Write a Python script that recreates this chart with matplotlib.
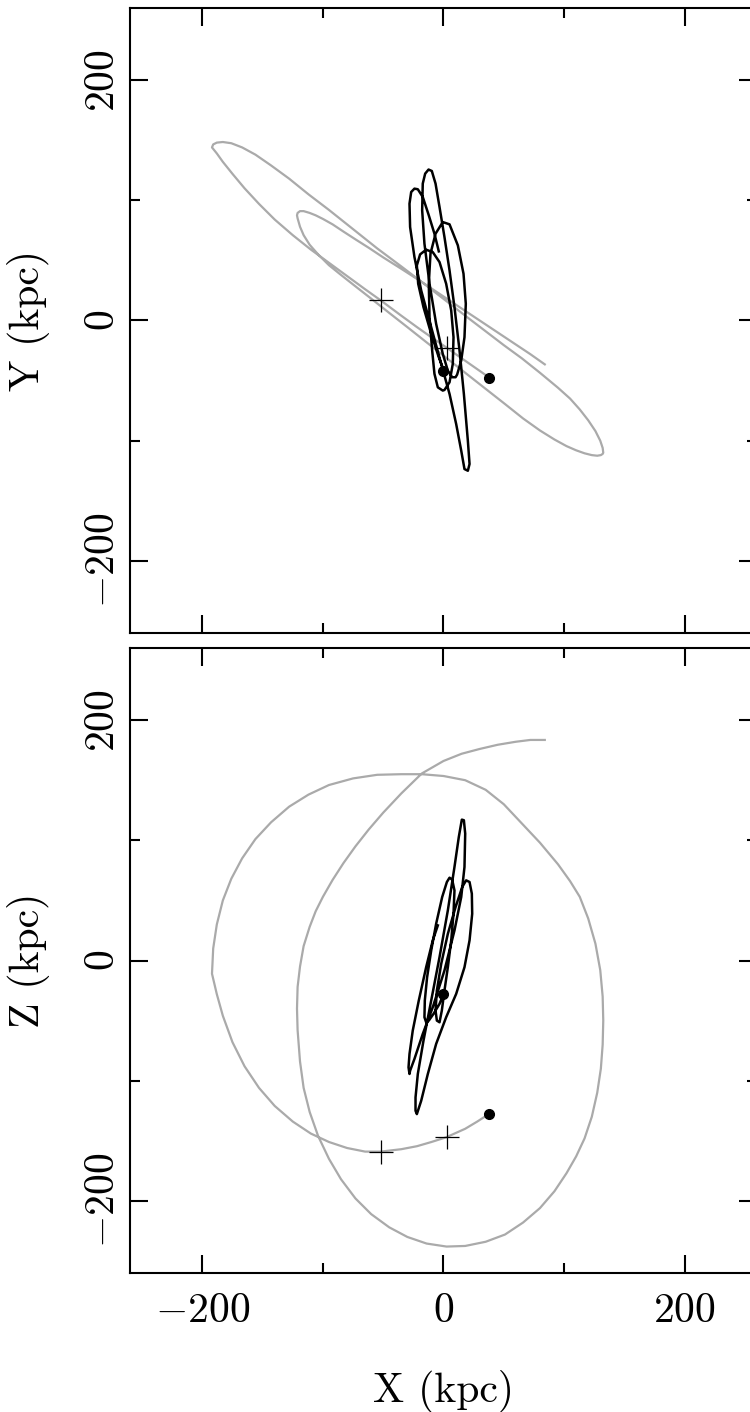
import numpy as np
import matplotlib.pyplot as plt

plt.rcParams['font.family'] = 'serif'
plt.rcParams['font.serif'] = ['cmr10']
plt.rcParams['mathtext.fontset'] = 'cm'
plt.rcParams['axes.formatter.use_mathtext'] = True

# gray orbit (x, y, z in kpc)
gx = [38, 28, 18, 8, 2.5, -10, -22, -35, -52, -65, -80, -95, -110, -125, -140, -153, -165, -175, -183, -188, -192,
      -191, -188, -183, -176, -167, -156, -143, -128, -112, -95, -75, -55, -35, -18, 0, 18, 35, 50, 65, 80, 95,
      105, 113, 120, 126, 130, 132, 132.5,
      132, 130.5, 127.5, 123, 117, 110, 102, 92, 80, 66, 51, 35, 18, 2.5, -14, -30, -45, -60, -73, -85, -95, -104,
      -111, -116, -119, -121,
      -121.5, -121, -119, -116, -111, -106, -100, -92, -83, -73, -62, -50, -35, -18, 0, 15, 30, 45, 60, 72, 84]
gy = [-47.5, -40.5, -33.5, -26.5, -22.5, -14, -5.5, 4, 16.7, 26, 37, 48, 59, 71, 84, 97, 110, 122, 132, 139, 144,
      146.5, 148, 148.5, 147.5, 144, 138, 129, 118, 105, 92, 76, 60, 45, 32, 18, 4, -9, -20.5, -31.5, -43.5, -56,
      -65, -74, -83, -92, -100, -106, -110,
      -111, -112, -112.5, -112, -110.5, -108, -104.5, -99, -91.5, -81.5, -69.5, -56.9, -43.5, -31.2, -18.2, -5.5,
      6.3, 18.2, 28.4, 37.9, 46, 55, 63, 71, 78, 85,
      87.5, 89.5, 91, 91, 89.5, 87.5, 84.5, 80, 74, 67.5, 60.5, 52.5, 43, 32, 20, 10, 0, -10, -20, -28, -36.5]
gz = [-127.5, -134, -140, -144.5, -147, -151, -154.5, -157, -159, -159, -156, -151, -144, -134, -121, -106, -88, -68, -46, -28, -11,
      10, 30, 50, 68, 85, 101, 115, 128, 138, 146, 151.5, 154.5, 155, 155, 153.5, 150, 142, 130, 114, 98, 80,
      66, 53, 35, 14, -8, -30, -50,
      -70, -90, -110, -130, -148, -163, -177, -192, -206, -218, -228, -234, -237.5, -238, -235.5, -230, -222,
      -211, -198, -182, -165, -146, -126, -106, -84, -58,
      -40, -22, -5, 12, 28, 41, 53, 67, 81, 95, 109, 123, 139, 155.6, 166, 172, 176, 179.5, 182, 183.5, 183.5]

# black orbit, X-Y projection
bxy_x = [0.3, -3.9, -10.2, -16.6, -21.0, -22.1, -19.4, -14.4,
         -8.9, -3.3, 2.2, 6.4, 8.3, 7.7, 5.0, 0.8, -0.6,
         -4.7, -7.5, -9.4, -11.6, -12.2, -10.8, -6.6, -0.6,
         5.0, 11.9, 16.6, 18.5, 17.4, 14.7, 11.3, 10.0,
         7.2, 3.6, -0.6, -6.1, -11.6, -15.8, -17.7, -17.2, -15.2, -12.4,
         -9.7, -6.6, -3.3, 0.8, 5.0, 9.1, 13.3, 16.9, 20.2, 21.6, 20.2,
         17.4, 14.7, 10.5, 5.0, -1.9, -10.2, -18.5, -24.1, -27.7, -28.2, -26.8, -24.1,
         -21.3, -17.2, -12.2, -7.5, -3.9]
bxy_y = [-41.7, -30.6, -11.1, 11.1, 30.6, 45.8, 55, 58.9,
         56.9, 48.6, 30.6, 8.3, -13.9, -36.1, -51.4, -57.8, -58.3,
         -55.6, -44.4, -25, 2.8, 30.6, 55.6, 72.2, 81.9,
         80, 62.5, 38.9, 13.9, -13.9, -33.3, -45, -47.2,
         -47.2, -41.7, -27.8, -2.8, 30.6, 63.9, 91.7, 113.9, 122.2, 125.6,
         124.4, 113.9, 94.4, 69.4, 41.7, 11.1, -25, -61.1, -100, -119.4, -125,
         -123.6, -108.3, -86.1, -61.1, -36.1, -5.6, 25, 52.8, 77.8, 97.2, 106.9, 109.7,
         109.2, 102.8, 87.5, 72.2, 57.5]

# black orbit, X-Z projection
bxz_x = [0.0, -3.3, -8.3, -12.2, -14.4,
         -15.8, -15.5, -13.6, -10.2, -6.1, -1.1, 2.8, 5.0,
         7.2, 9.1, 8.3, 6.4, 3.6, 0.8, -1.4, -3.3,
         -5.5, -6.6, -5.5, -1.9, 3.6, 10.0, 15.5, 18.8,
         21.6, 23.5, 23.8, 21.6, 17.4, 10.5, 2.2, -6.1, -13.0, -18.5, -22.1,
         -23.2, -23.2, -21.3, -16.6, -10.2, -3.3, 3.6, 9.1, 12.7, 15.2,
         16.9, 18.0, 17.4, 14.7, 9.1, 0.8, -8.9, -17.2, -24.1, -27.7, -28.2,
         -29.0, -28.2, -25.5, -20.5, -14.4, -8.9, -4.7]
bxz_z = [-27.8, -36.1, -44.4, -50, -51.4,
         -47.2, -33.3, -13.9, 8.3, 30.6, 52.8, 65.3, 68.9,
         67.2, 58.3, 38.9, 16.7, -5.6, -25, -41.7, -51.4,
         -50, -41.7, -25, -2.8, 22.2, 44.4, 61.1, 66.7,
         65.3, 55.6, 38.9, 16.7, -5.6, -27.8, -47.2, -69.4, -94.4, -116.7, -127.8,
         -125, -113.9, -94.4, -66.7, -33.3, 2.8, 41.7, 77.8, 102.8, 117.2,
         116.7, 105.6, 77.8, 52.8, 25, -8.3, -38.9, -61.1, -81.9, -91.7, -94.4,
         -88.9, -77.8, -58.3, -33.3, -5.6, 16.7, 29.2]

# markers
dot_x = [0, 38]
dot_y = [-41.7, -47.5]
dot_z = [-27.8, -127.5]
plus_x = [-52, 2.5]
plus_y = [16.7, -22.5]
plus_z = [-159, -147]

W, H = 750, 1412
fig = plt.figure(figsize=(W / 100, H / 100), dpi=100)
ax1 = fig.add_axes([130 / W, (H - 633) / H, 627 / W, 625 / H])
ax2 = fig.add_axes([130 / W, (H - 1273) / H, 627 / W, 625 / H])

for ax, gv, bx, bv, dv, pv, lab in [(ax1, gy, bxy_x, bxy_y, dot_y, plus_y, 'Y (kpc)'),
                                     (ax2, gz, bxz_x, bxz_z, dot_z, plus_z, 'Z (kpc)')]:
    ax.plot(gx, gv, color='#aaaaaa', lw=1.6, solid_joinstyle='round')
    ax.plot(bx, bv, color='black', lw=1.8, solid_joinstyle='round')
    ax.plot(dot_x, dv, 'o', color='black', ms=7)
    ax.plot(plus_x, pv, '+', color='black', ms=17, mew=0.9)
    ax.set_xlim(-260, 260)
    ax.set_ylim(-260, 260)
    ax.set_xticks([-200, 0, 200])
    ax.set_yticks([-200, 0, 200])
    ax.set_xticks([-100, 100], minor=True)
    ax.set_yticks([-100, 100], minor=True)
    ax.tick_params(which='both', direction='in', top=True, right=True, width=1.5, labelsize=30)
    ax.tick_params(which='major', length=13)
    ax.tick_params(which='minor', length=7)
    ax.tick_params(axis='y', labelrotation=90, pad=6)
    for lbl in ax.get_yticklabels():
        lbl.set_va('center')
    ax.tick_params(axis='x', pad=14)
    for s in ax.spines.values():
        s.set_linewidth(1.5)
    ax.set_ylabel(lab, fontsize=30)
    ax.yaxis.set_label_coords(-0.128, 0.5)

ax1.tick_params(axis='x', labelbottom=False)
ax2.set_xlabel('X (kpc)', fontsize=30)
ax2.xaxis.set_label_coords(0.5, -0.155)

fig.savefig('out.png', dpi=100)
